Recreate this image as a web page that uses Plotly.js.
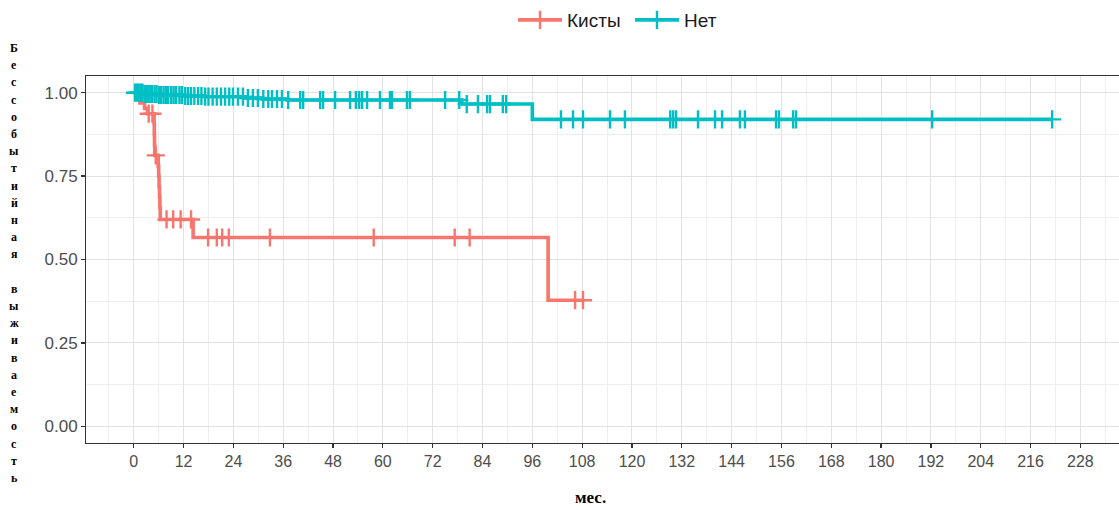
<!DOCTYPE html>
<html>
<head>
<meta charset="utf-8">
<script src="https://cdn.plot.ly/plotly-3.0.1.min.js"></script>
<style>html,body{margin:0;padding:0;background:#fff;overflow:hidden;}</style>
</head>
<body>
<div id="chart" style="width:1119px;height:510px;"></div>
<script>
// ---- data ----
const groupNames = ["Кисты", "Нет"];
const groupColors = ["#F8766D", "#00BFC4"];

// Кисты: step curve (event times, survival after event)
const cystTimes = [0, 1.5, 2.6, 3.3, 4.9, 4.95, 5.0, 5.05, 5.9, 6.0, 6.1, 6.2, 6.3, 6.4, 14.3, 99.8, 108.2];
const cystSurv  = [1, 0.969, 0.953, 0.937, 0.906, 0.875, 0.843, 0.812, 0.78, 0.75, 0.718, 0.687, 0.655, 0.62, 0.566, 0.378, 0.378];
const cystCensor = [3.6, 4.5, 5.3, 7.9, 9.5, 11.3, 13.8, 17.9, 20.0, 21.3, 22.9, 32.8, 57.8, 77.3, 80.9, 106.3, 108.2];

// Нет: step curve
const noTimes = [0, 2.5, 6, 12, 17, 27, 31, 37, 79, 96, 221.2];
const noSurv  = [1, 0.996, 0.993, 0.99, 0.988, 0.984, 0.981, 0.978, 0.966, 0.92, 0.92];
const noCensor = [0.3, 0.8, 1.2, 1.7, 2.1, 2.6, 3.0, 3.5, 4.0, 4.4, 5.0, 5.5, 6.1, 6.6, 7.2, 7.8, 8.3, 9.0, 9.6,
  10.2, 11.0, 11.6, 12.4, 13.1, 13.8, 14.6, 15.5, 16.3, 17.2, 18.0, 19.0, 20.0, 21.0, 22.0, 23.0, 23.9, 25.1,
  26.3, 27.5, 28.7, 29.9, 31.2, 32.4, 33.3, 34.5, 35.7, 37.2, 40.1, 40.8, 44.9, 45.6, 48.5, 52.1, 53.5, 54.3,
  55.0, 56.2, 59.3, 61.7, 62.2, 65.8, 66.5, 75.0, 78.4, 80.2, 82.9, 85.1, 85.8, 88.9, 89.7, 102.9, 105.8,
  108.2, 114.7, 118.3, 129.2, 129.9, 130.6, 135.9, 140.0, 141.7, 146.0, 147.2, 154.7, 155.4, 158.8, 159.5,
  192.3, 221.2];

const xTicks = [0, 12, 24, 36, 48, 60, 72, 84, 96, 108, 120, 132, 144, 156, 168, 180, 192, 204, 216, 228];
const yTicks = [0, 0.25, 0.5, 0.75, 1];
const yTickText = ["0.00", "0.25", "0.50", "0.75", "1.00"];
const yTitle = "Бессобытийная выживаемость";
const xTitle = "мес.";

// ---- helpers ----
function stepAt(times, surv, t) {
  let v = surv[0];
  for (let i = 0; i < times.length; i++) { if (times[i] <= t) v = surv[i]; }
  return v;
}

const curves = [
  {t: cystTimes, s: cystSurv, c: cystCensor},
  {t: noTimes, s: noSurv, c: noCensor}
];

const LW = 3.6;
const traces = [];
curves.forEach((cv, gi) => {
  traces.push({
    x: cv.t, y: cv.s, type: "scatter", mode: "lines",
    line: {shape: "hv", color: groupColors[gi], width: LW},
    showlegend: false, hoverinfo: "skip"
  });
  traces.push({
    x: cv.c, y: cv.c.map(t => stepAt(cv.t, cv.s, t)), type: "scatter", mode: "markers",
    marker: {symbol: "cross-thin", size: 13, line: {color: groupColors[gi], width: 2.4}, color: groupColors[gi]},
    showlegend: false, hoverinfo: "skip"
  });
});
// legend entries
groupNames.forEach((nm, gi) => {
  traces.push({
    x: [null], y: [null], type: "scatter", mode: "lines+markers", name: nm,
    line: {color: groupColors[gi], width: LW},
    marker: {symbol: "cross-thin", size: 13, line: {color: groupColors[gi], width: 2.4}, color: groupColors[gi]}
  });
});

// ---- layout ----
const L = 86, T = 76, W = 1119, H = 510, B = 67;
const plotW = W - L, plotH = H - T - B;
const annotations = [];
const letters = Array.from(yTitle);
letters.forEach((ch, i) => {
  const ypx = 48 + i * 17.2;
  annotations.push({
    text: ch === " " ? "" : ch, xref: "paper", yref: "paper",
    x: (14 - L) / plotW, y: (H - B - ypx) / plotH,
    xanchor: "center", yanchor: "middle", showarrow: false,
    font: {family: "Liberation Serif, DejaVu Serif, serif", size: 12, color: "#000", weight: "bold"}
  });
});
annotations.push({
  text: xTitle, xref: "paper", yref: "paper",
  x: (590 - L) / plotW, y: (H - B - 497) / plotH,
  xanchor: "center", yanchor: "middle", showarrow: false,
  font: {family: "Liberation Serif, DejaVu Serif, serif", size: 17, color: "#000", weight: "bold"}
});

const xTickFont = {family: "Liberation Sans, Arial, sans-serif", size: 16, color: "#4d4d4d"};
const yTickFont = {family: "Liberation Sans, Arial, sans-serif", size: 17, color: "#4d4d4d"};
const layout = {
  width: W, height: H,
  margin: {l: L, r: 0, t: T, b: B, pad: 0},
  paper_bgcolor: "#fff", plot_bgcolor: "#fff",
  showlegend: true,
  legend: {orientation: "h", x: (630 - L) / plotW, xanchor: "center", y: (H - B - 20) / plotH, yanchor: "middle",
           itemwidth: 44, entrywidth: 58, entrywidthmode: "pixels",
           font: {family: "Liberation Sans, Arial, sans-serif", size: 19, color: "#1a1a1a"}, bgcolor: "rgba(0,0,0,0)"},
  xaxis: {
    range: [-11.5, 237.3], tickmode: "array", tickvals: xTicks, ticktext: xTicks.map(String),
    ticks: "outside", ticklen: 4, tickwidth: 1.2, tickcolor: "#333",
    showline: true, linecolor: "#333", linewidth: 1, mirror: true,
    showgrid: true, gridcolor: "#e2e2e2", gridwidth: 1, zeroline: false,
    minor: {tickmode: "linear", tick0: -6, dtick: 12, showgrid: true, gridcolor: "#eeeeee", gridwidth: 1, ticks: ""},
    tickfont: xTickFont
  },
  yaxis: {
    range: [-0.05, 1.05], tickmode: "array", tickvals: yTicks, ticktext: yTickText,
    ticks: "outside", ticklen: 4, tickwidth: 1.2, tickcolor: "#333",
    showline: true, linecolor: "#333", linewidth: 1, mirror: false,
    showgrid: true, gridcolor: "#e2e2e2", gridwidth: 1, zeroline: false,
    minor: {tickmode: "linear", tick0: 0.125, dtick: 0.25, showgrid: true, gridcolor: "#eeeeee", gridwidth: 1, ticks: ""},
    tickfont: yTickFont
  },
  annotations: annotations
};

Plotly.newPlot("chart", traces, layout, {staticPlot: true, displayModeBar: false});
</script>
</body>
</html>
